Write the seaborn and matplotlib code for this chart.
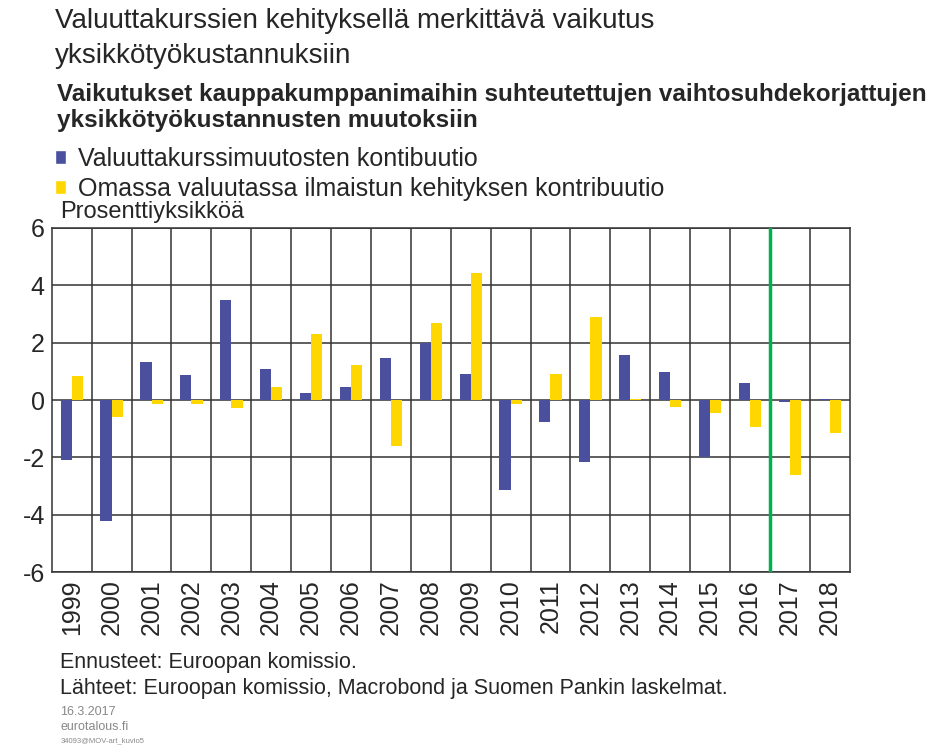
import numpy as np
import pandas as pd
import seaborn as sns
import matplotlib.pyplot as plt
from matplotlib.patches import Patch

years = [str(y) for y in range(1999, 2019)]
fx_contrib = [-2.09, -4.21, 1.31, 0.88, 3.50, 1.08, 0.24, 0.44, 1.45, 2.00,
              0.92, -3.13, -0.75, -2.17, 1.57, 0.96, -2.00, 0.60, -0.07, 0.03]
local_contrib = [0.85, -0.60, -0.15, -0.15, -0.27, 0.44, 2.29, 1.21, -1.60, 2.69,
                 4.44, -0.14, 0.92, 2.89, 0.02, -0.23, -0.44, -0.93, -2.62, -1.16]
series_names = ["Valuuttakurssimuutosten kontibuutio",
                "Omassa valuutassa ilmaistun kehityksen kontribuutio"]
colors = ["#4a4f9e", "#ffd700"]

df = pd.DataFrame({
    "year": years * 2,
    "value": fx_contrib + local_contrib,
    "series": [series_names[0]] * len(years) + [series_names[1]] * len(years),
})

sns.set_style("white")
plt.rcParams['font.family'] = ['Liberation Sans', 'DejaVu Sans']

fig = plt.figure(figsize=(9.42, 7.47), dpi=100)
ax = fig.add_axes([0.055, 0.234, 0.847, 0.461])

sns.barplot(data=df, x="year", y="value", hue="series", palette=colors,
            width=0.56, saturation=1, linewidth=0, ax=ax, legend=False)

ax.set_ylim(-6, 6)
ax.set_xlim(-0.5, len(years) - 0.5)
ax.set_yticks(np.arange(-6, 7, 2))
ax.set_yticklabels([str(v) for v in range(-6, 7, 2)], fontsize=18)
ax.set_xticks(range(len(years)))
ax.set_xticklabels(years, rotation=90, fontsize=18)
ax.set_xticks(np.arange(0.5, len(years) - 0.5, 1), minor=True)
ax.tick_params(axis='both', which='both', length=0, pad=5)
ax.grid(axis='y', which='major', color='#333333', linewidth=1.1)
ax.grid(axis='x', which='minor', color='#333333', linewidth=1.1)
ax.set_axisbelow(True)
for s in ax.spines.values():
    s.set_color('#333333')
    s.set_linewidth(1.1)
ax.axvline(17.5, color='#00b050', linewidth=2.5, zorder=3)
ax.set_xlabel("")
ax.set_ylabel("")

fig.text(0.058, 0.989, "Valuuttakurssien kehityksellä merkittävä vaikutus\nyksikkötyökustannuksiin",
         fontsize=20, va='top', linespacing=1.45)
fig.text(0.06, 0.889, "Vaikutukset kauppakumppanimaihin suhteutettujen vaihtosuhdekorjattujen\nyksikkötyökustannusten muutoksiin",
         fontsize=17.5, fontweight='bold', va='top', linespacing=1.15)

handles = [Patch(facecolor=c) for c in colors]
fig.legend(handles, series_names, loc='upper left', bbox_to_anchor=(0.058, 0.803),
           frameon=False, fontsize=18, handlelength=0.45, handleheight=0.5,
           handletextpad=0.5, labelspacing=0.22, borderaxespad=0, borderpad=0)
fig.text(0.064, 0.716, "Prosenttiyksikköä", fontsize=17, va='center')

fig.text(0.064, 0.1125, "Ennusteet: Euroopan komissio.", fontsize=15.5, va='center')
fig.text(0.064, 0.078, "Lähteet: Euroopan komissio, Macrobond ja Suomen Pankin laskelmat.",
         fontsize=15.5, va='center')
fig.text(0.064, 0.0475, "16.3.2017", fontsize=9, color='#888888', va='center')
fig.text(0.064, 0.0262, "eurotalous.fi", fontsize=9, color='#888888', va='center')
fig.text(0.064, 0.008, "34093@MOV-art_kuvio5", fontsize=5.5, color='#888888', va='center')

fig.savefig("out.png", dpi=100, facecolor='white')
